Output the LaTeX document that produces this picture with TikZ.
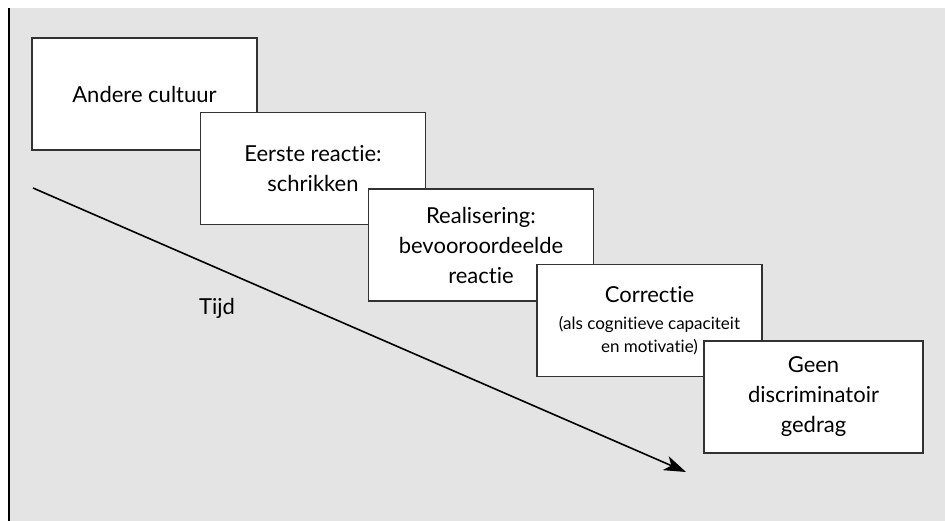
\documentclass[tikz,border=0pt]{standalone}
\usepackage{fontspec}
\setmainfont{Lato}[Ligatures=NoCommon]
\usetikzlibrary{arrows.meta}
\definecolor{panel}{RGB}{228,228,228}
\definecolor{edge}{RGB}{50,50,50}
\newcommand\smallnote{\fontsize{17}{23}\selectfont}
\begin{document}
\begin{tikzpicture}[x=1pt,y=-1pt,
  stagebox/.style={draw=edge, fill=white, line width=1.3pt,
    minimum width=225pt, minimum height=112pt, inner sep=0pt,
    align=center, font=\fontsize{22}{30}\selectfont},
  timeline/.style={line width=1.6pt, -{Stealth[length=22pt,width=15pt,inset=6pt]}}]
\useasboundingbox (0,0) rectangle (945,521);
% grey panel with the black rule on its left
\fill[panel] (10,8) rectangle (945,521);
\draw[line width=2.6pt] (9,8) -- (9,521);

% time axis
\coordinate (t0) at (33,188);
\coordinate (t1) at (686,472);
\draw[timeline] (t0) -- (t1);
\node[anchor=base west, font=\fontsize{22}{30}\selectfont, inner sep=0pt] (tijd) at (199,315) {Tijd};

% the stages, each overlapping the previous one
\node[stagebox] (s1) at (144.5,94) {Andere cultuur};
\node[stagebox] (s2) at (313,168.5) {Eerste reactie:\\schrikken};
\node[stagebox] (s3) at (481,245) {Realisering:\\bevooroordeelde\\reactie};
\node[stagebox] (s4) at (649.5,320.5) {Correctie\\[-3pt]\smallnote(als cognitieve capaciteit\\[-7pt]\smallnote en motivatie)};
\node[stagebox, minimum width=219pt] (s5) at (813.5,397) {Geen\\discriminatoir\\gedrag};
\end{tikzpicture}
\end{document}
